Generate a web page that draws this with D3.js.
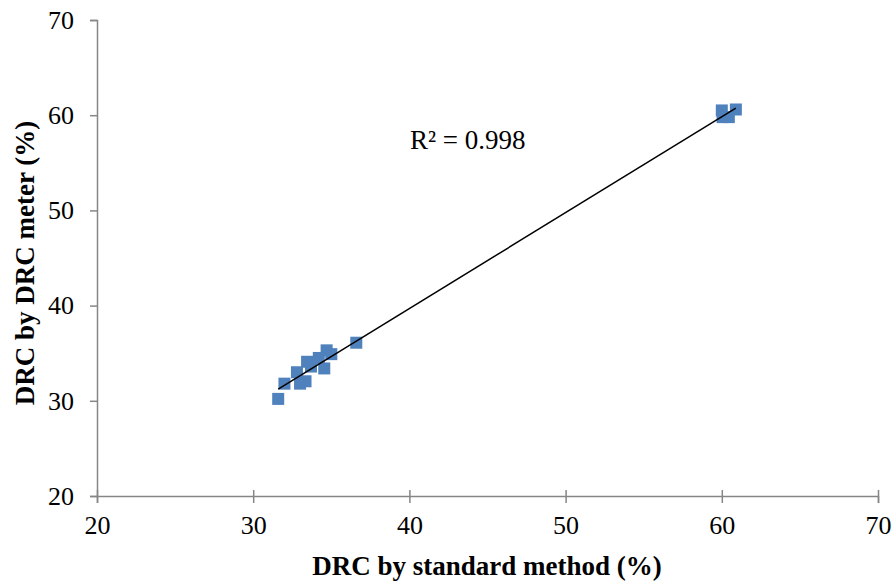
<!DOCTYPE html>
<html>
<head>
<meta charset="utf-8">
<script src="https://cdn.jsdelivr.net/npm/d3@7"></script>
<style>
  html, body { margin: 0; padding: 0; background: #fff; }
  svg { display: block; }
  text { font-family: "Liberation Serif", "Times New Roman", serif; fill: #000; }
</style>
</head>
<body>
<svg id="chart" width="896" height="587"></svg>
<script>
// DRC readings: standard laboratory method vs. DRC meter (%)
const standardMethod = [31.6, 32.0, 33.0, 33.35, 32.8, 33.45, 34.2, 34.7, 35.0, 34.55, 33.7, 36.6, 60.0, 60.9, 60.05, 60.45];
const drcMeter       = [30.2, 31.8, 31.8, 32.05, 33.0, 34.1, 34.5, 35.3, 34.9, 33.4, 33.6, 36.1, 60.5, 60.6, 59.8, 59.8];
const xTicks = [20, 30, 40, 50, 60, 70];
const yTicks = [20, 30, 40, 50, 60, 70];
const rSquaredLabel = "R² = 0.998";

const svg = d3.select("#chart");
const margin = { left: 97, right: 18, top: 20, bottom: 91 };
const W = 896, H = 587;

const x = d3.scaleLinear().domain([20, 70]).range([margin.left, W - margin.right]);
const y = d3.scaleLinear().domain([20, 70]).range([H - margin.bottom, margin.top]);

const axisColor = "#868686";
const tickFont = 26;

// y axis: ticks outside
const gy = svg.append("g")
  .attr("transform", `translate(${x(20)},0)`)
  .call(d3.axisLeft(y).tickValues(yTicks).tickSize(7).tickPadding(16).tickFormat(d3.format("d")));
gy.select(".domain").attr("stroke", axisColor).attr("stroke-width", 1.5);
gy.selectAll(".tick line").attr("stroke", axisColor).attr("stroke-width", 1.5);
gy.selectAll(".tick text").attr("font-size", tickFont).attr("font-family", "Liberation Serif").attr("fill", "#000");

// x axis: ticks crossing the axis line
const gx = svg.append("g")
  .attr("transform", `translate(0,${y(20)})`)
  .call(d3.axisBottom(x).tickValues(xTicks).tickSize(7).tickPadding(13).tickFormat(d3.format("d")));
gx.select(".domain").attr("stroke", axisColor).attr("stroke-width", 1.5);
gx.selectAll(".tick line").attr("stroke", axisColor).attr("stroke-width", 1.5).attr("y1", -6);
gx.selectAll(".tick text").attr("font-size", tickFont).attr("font-family", "Liberation Serif").attr("fill", "#000");

// scatter markers
const size = 12;
const pts = standardMethod.map((v, i) => [v, drcMeter[i]]);
svg.append("g").selectAll("rect")
  .data(pts)
  .join("rect")
  .attr("x", d => x(d[0]) - size / 2)
  .attr("y", d => y(d[1]) - size / 2)
  .attr("width", size)
  .attr("height", size)
  .attr("fill", "#4F81BD");

// least-squares trend line over the data range
const mx = d3.mean(standardMethod), my = d3.mean(drcMeter);
const sxy = d3.sum(pts, d => (d[0] - mx) * (d[1] - my));
const sxx = d3.sum(pts, d => (d[0] - mx) ** 2);
const slope = sxy / sxx, intercept = my - slope * mx;
const [x0, x1] = d3.extent(standardMethod);
svg.append("line")
  .attr("x1", x(x0)).attr("y1", y(slope * x0 + intercept))
  .attr("x2", x(x1)).attr("y2", y(slope * x1 + intercept))
  .attr("stroke", "#000").attr("stroke-width", 1.5);

svg.append("text")
  .attr("x", 410).attr("y", 149)
  .attr("font-size", 27)
  .text(rSquaredLabel);

// axis titles
svg.append("text")
  .attr("x", 487).attr("y", 575)
  .attr("text-anchor", "middle")
  .attr("font-size", 27).attr("font-weight", "bold")
  .text("DRC by standard method (%)");

svg.append("text")
  .attr("transform", `translate(34,263) rotate(-90)`)
  .attr("text-anchor", "middle")
  .attr("font-size", 27).attr("font-weight", "bold")
  .text("DRC by DRC meter (%)");
</script>
</body>
</html>
